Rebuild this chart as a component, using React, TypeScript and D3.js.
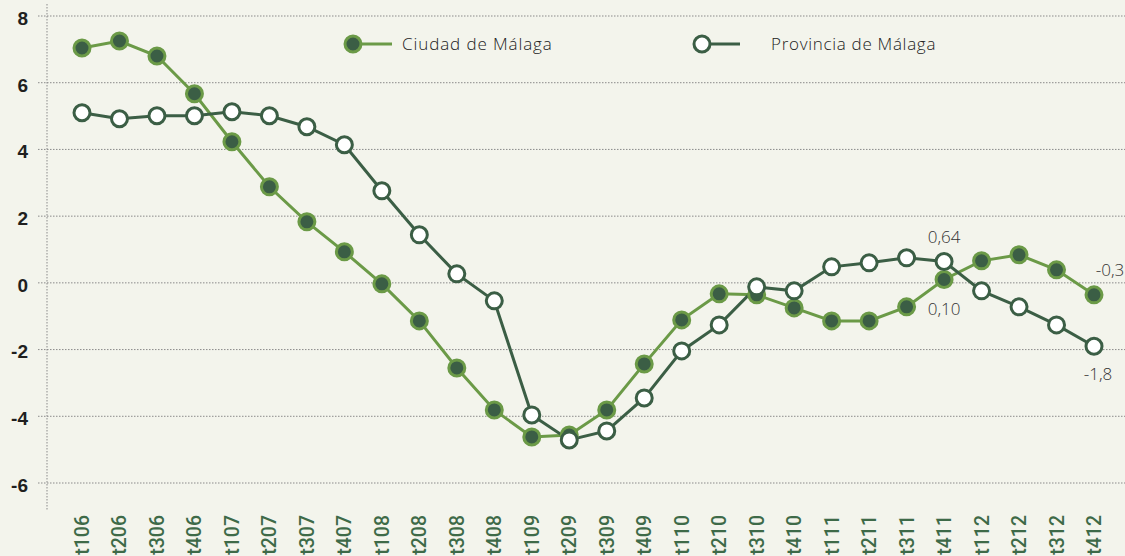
import React from "react";
import * as d3 from "d3";

const categories = ["t106","t206","t306","t406","t107","t207","t307","t407","t108","t208","t308","t408","t109","t209","t309","t409","t110","t210","t310","t410","t111","t211","t311","t411","t112","t212","t312","t412"];
const ciudad = [7.04,7.25,6.8,5.67,4.23,2.88,1.83,0.93,-0.03,-1.14,-2.55,-3.81,-4.62,-4.56,-3.81,-2.43,-1.11,-0.33,-0.36,-0.75,-1.14,-1.14,-0.72,0.1,0.66,0.84,0.39,-0.36];
const provincia = [5.1,4.92,5.01,5.01,5.13,5.01,4.68,4.14,2.76,1.44,0.27,-0.54,-3.96,-4.71,-4.44,-3.45,-2.04,-1.26,-0.12,-0.24,0.48,0.6,0.75,0.64,-0.24,-0.72,-1.26,-1.9];
const yTicks = [8,6,4,2,0,-2,-4,-6];
const seriesNames = ["Ciudad de Málaga","Provincia de Málaga"];
const annotations = [
  { series: 1, index: 23, text: "0,64", dx: 0, dy: -24 },
  { series: 0, index: 23, text: "0,10", dx: 0, dy: 30 },
  { series: 0, index: 27, text: "-0,3", dx: 16, dy: -25 },
  { series: 1, index: 27, text: "-1,8", dx: 4, dy: 28 },
];

const W = 1125, H = 556;
const BG = "#f3f4ec";
const DARK = "#3b5e45";
const LIGHT = "#6b9a47";

export default function App() {
  const x = d3.scalePoint<string>().domain(categories).range([82, 1094]);
  const y = d3.scaleLinear().domain([-6, 8]).range([483, 16]);
  const line = d3.line<number>().x((_, i) => x(categories[i])!).y((d) => y(d));
  const series = [ciudad, provincia];
  const lightFont = "'Open Sans', Lato, sans-serif";
  const boldFont = "'Liberation Sans', Arial, sans-serif";
  const catFont = "Roboto, 'Liberation Sans', sans-serif";
  return (
    <svg width={W} height={H} style={{ position: "absolute", left: 0, top: 0, display: "block", background: BG }}>
      <rect width={W} height={H} fill={BG} />
      {yTicks.map((t) => (
        <g key={t}>
          <line x1={38} x2={W} y1={y(t)} y2={y(t)} stroke="#8a8a8a" strokeWidth={1} strokeDasharray="1.5,1.5" />
          <text x={28} y={y(t) + 2} dy="0.36em" textAnchor="end" fontFamily={boldFont} fontWeight={700} fontSize={19} fill="#1f1f1f">{t}</text>
        </g>
      ))}
      <line x1={47} x2={47} y1={4} y2={510} stroke="#8a8a8a" strokeWidth={1} strokeDasharray="1.5,1.5" />
      {categories.map((c) => (
        <text key={c} transform={`translate(${x(c)! + 7},515) rotate(-90)`} textAnchor="end" fontFamily={catFont} fontWeight={500} fontSize={19.5} fill="#3e6a48">{c}</text>
      ))}
      <path d={line(ciudad)!} fill="none" stroke={LIGHT} strokeWidth={3} />
      <path d={line(provincia)!} fill="none" stroke={DARK} strokeWidth={3} />
      {ciudad.map((v, i) => (
        <circle key={"c" + i} cx={x(categories[i])} cy={y(v)} r={8} fill={DARK} stroke={LIGHT} strokeWidth={3} />
      ))}
      {provincia.map((v, i) => (
        <circle key={"p" + i} cx={x(categories[i])} cy={y(v)} r={8} fill="#ffffff" stroke={DARK} strokeWidth={3} />
      ))}
      {annotations.map((a, k) => {
        const v = series[a.series][a.index];
        return (
          <text key={k} x={x(categories[a.index])! + a.dx} y={y(v) + a.dy} dy="0.35em" textAnchor="middle" fontFamily={lightFont} fontWeight={300} fontSize={17} fill="#333">{a.text}</text>
        );
      })}
      <g>
        <line x1={353} x2={392} y1={44} y2={44} stroke={LIGHT} strokeWidth={3} />
        <circle cx={353} cy={44} r={8} fill={DARK} stroke={LIGHT} strokeWidth={3} />
        <text x={402} y={44} dy="0.35em" fontFamily={lightFont} fontWeight={300} fontSize={17} letterSpacing={0.9} fill="#222">{seriesNames[0]}</text>
        <line x1={702} x2={740} y1={44} y2={44} stroke={DARK} strokeWidth={3} />
        <circle cx={702} cy={44} r={8} fill="#fff" stroke={DARK} strokeWidth={3} />
        <text x={771} y={44} dy="0.35em" fontFamily={lightFont} fontWeight={300} fontSize={17} letterSpacing={0.7} fill="#222">{seriesNames[1]}</text>
      </g>
    </svg>
  );
}
